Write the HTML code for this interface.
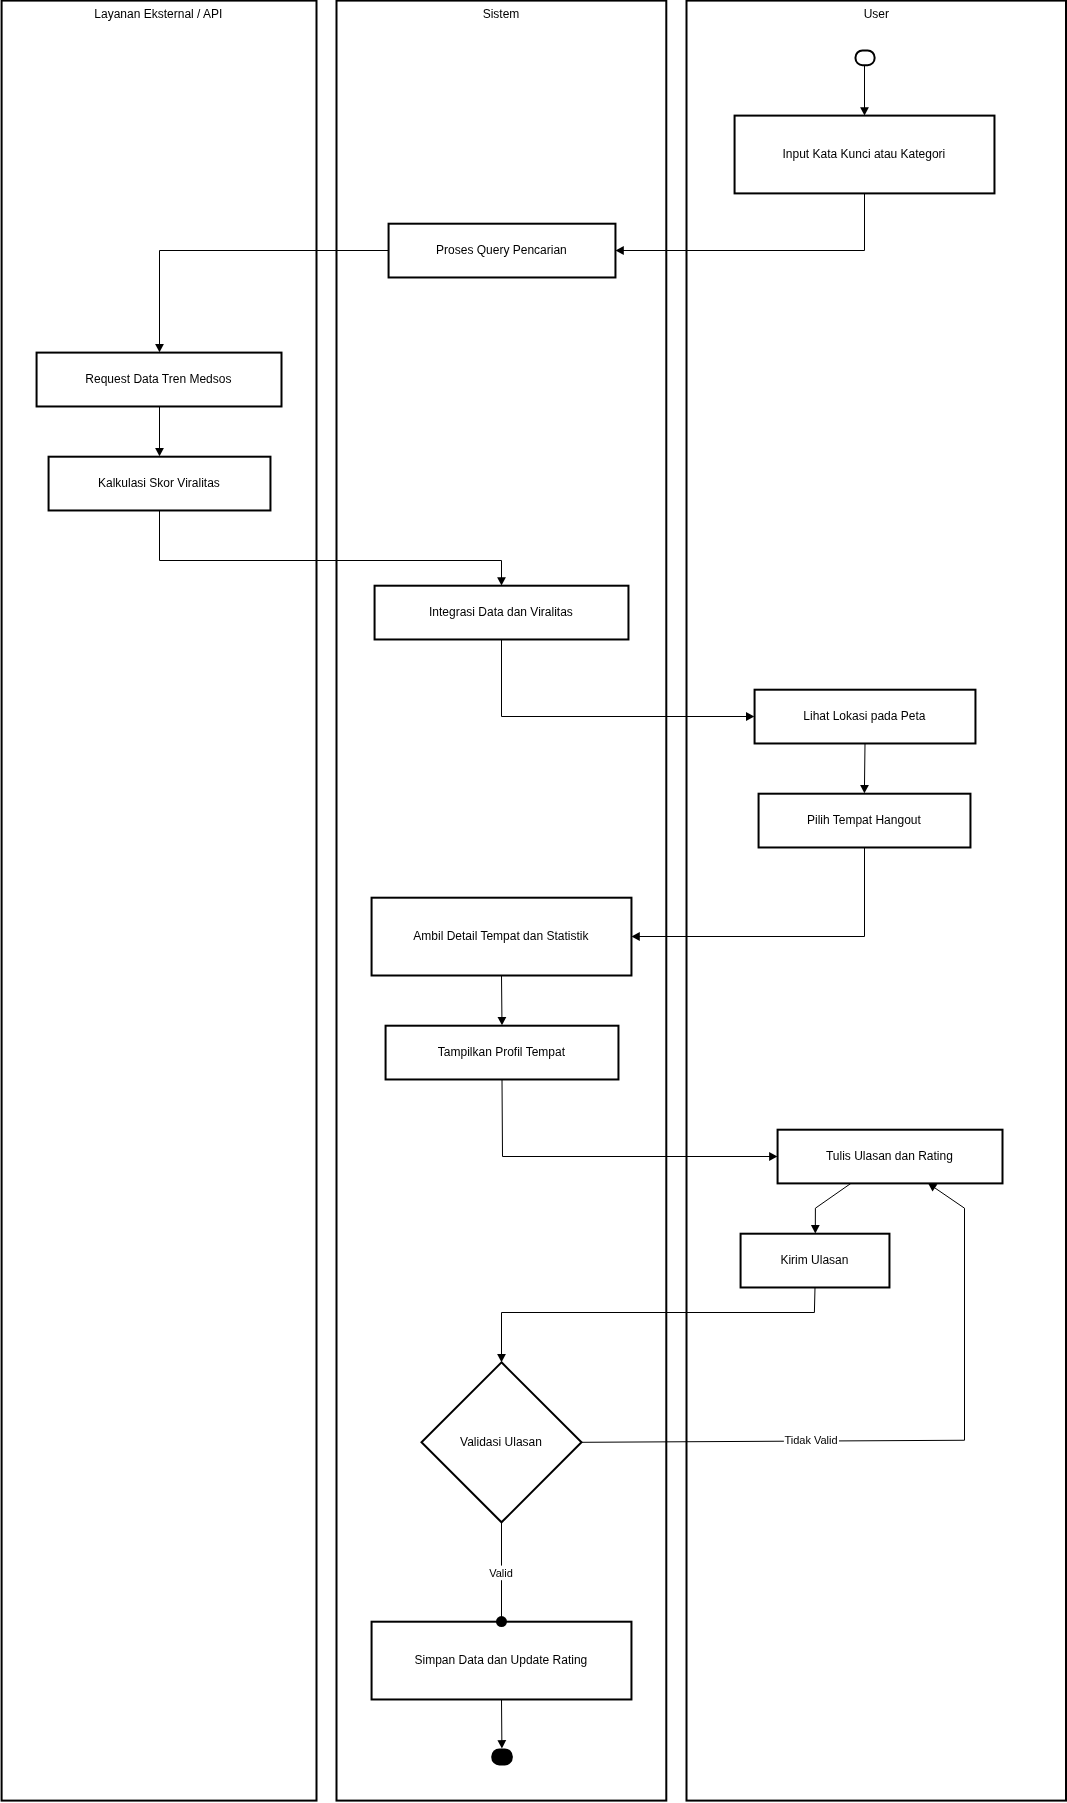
<!DOCTYPE html><html><head><meta charset="utf-8"><style>html,body{margin:0;padding:0;background:#fff;width:1067px;height:1803px;overflow:hidden}svg{display:block;will-change:transform}text{font-family:"Liberation Sans", sans-serif}</style></head><body>
<svg width="1067" height="1803" viewBox="0 0 1067 1803">
<rect x="0" y="0" width="1067" height="1803" fill="#fff"/>
<rect x="1.6" y="0.6" width="314.90" height="1800.00" fill="none" stroke="#000" stroke-width="2"/>
<text x="158.4" y="18" font-size="12" text-anchor="middle" fill="#000">Layanan Eksternal / API</text>
<rect x="336.5" y="0.6" width="329.80" height="1800.00" fill="none" stroke="#000" stroke-width="2"/>
<text x="501.0" y="18" font-size="12" text-anchor="middle" fill="#000">Sistem</text>
<rect x="686.5" y="0.6" width="379.50" height="1800.00" fill="none" stroke="#000" stroke-width="2"/>
<text x="876.3" y="18" font-size="12" text-anchor="middle" fill="#000">User</text>
<rect x="734.57" y="115.6" width="259.90" height="77.80" fill="#fff" stroke="#000" stroke-width="2"/>
<text x="863.9" y="158" font-size="12" text-anchor="middle" fill="#000">Input Kata Kunci atau Kategori</text>
<rect x="388.57" y="223.7" width="226.89" height="53.78" fill="#fff" stroke="#000" stroke-width="2"/>
<text x="501.4" y="254" font-size="12" text-anchor="middle" fill="#000">Proses Query Pencarian</text>
<rect x="36.57" y="352.6" width="244.93" height="53.88" fill="#fff" stroke="#000" stroke-width="2"/>
<text x="158.4" y="383" font-size="12" text-anchor="middle" fill="#000">Request Data Tren Medsos</text>
<rect x="48.57" y="456.7" width="221.89" height="53.78" fill="#fff" stroke="#000" stroke-width="2"/>
<text x="158.9" y="487" font-size="12" text-anchor="middle" fill="#000">Kalkulasi Skor Viralitas</text>
<rect x="374.57" y="585.7" width="253.89" height="53.78" fill="#fff" stroke="#000" stroke-width="2"/>
<text x="500.9" y="616" font-size="12" text-anchor="middle" fill="#000">Integrasi Data dan Viralitas</text>
<rect x="754.57" y="689.7" width="220.89" height="53.78" fill="#fff" stroke="#000" stroke-width="2"/>
<text x="864.4" y="720" font-size="12" text-anchor="middle" fill="#000">Lihat Lokasi pada Peta</text>
<rect x="758.57" y="793.7" width="211.89" height="53.78" fill="#fff" stroke="#000" stroke-width="2"/>
<text x="863.9" y="824" font-size="12" text-anchor="middle" fill="#000">Pilih Tempat Hangout</text>
<rect x="371.57" y="897.7" width="259.89" height="77.80" fill="#fff" stroke="#000" stroke-width="2"/>
<text x="500.9" y="940" font-size="12" text-anchor="middle" fill="#000">Ambil Detail Tempat dan Statistik</text>
<rect x="385.57" y="1025.7" width="232.89" height="53.78" fill="#fff" stroke="#000" stroke-width="2"/>
<text x="501.4" y="1056" font-size="12" text-anchor="middle" fill="#000">Tampilkan Profil Tempat</text>
<rect x="777.57" y="1129.7" width="224.93" height="53.70" fill="#fff" stroke="#000" stroke-width="2"/>
<text x="889.4" y="1160" font-size="12" text-anchor="middle" fill="#000">Tulis Ulasan dan Rating</text>
<rect x="740.57" y="1233.7" width="148.89" height="53.78" fill="#fff" stroke="#000" stroke-width="2"/>
<text x="814.4" y="1264" font-size="12" text-anchor="middle" fill="#000">Kirim Ulasan</text>
<rect x="371.57" y="1621.7" width="259.89" height="77.78" fill="#fff" stroke="#000" stroke-width="2"/>
<text x="500.9" y="1664" font-size="12" text-anchor="middle" fill="#000">Simpan Data dan Update Rating</text>
<polygon points="501.5,1362.3 581.5,1442.3 501.5,1522.3 421.5,1442.3" fill="#fff" stroke="#000" stroke-width="2"/>
<text x="501.0" y="1446" font-size="12" text-anchor="middle" fill="#000">Validasi Ulasan</text>
<rect x="855.5" y="50.4" width="19.1" height="14.8" rx="7" ry="7" fill="#fff" stroke="#000" stroke-width="2"/>
<rect x="491.3" y="1748.4" width="21.5" height="17" rx="8" ry="8" fill="#000"/>
<polyline points="864.50,66.00 864.50,110.50" fill="none" stroke="#000" stroke-width="1.0" stroke-linejoin="round"/>
<polygon points="864.50,115.50 860.10,107.20 868.90,107.20" fill="#000"/>
<polyline points="864.50,193.30 864.50,250.50 620.50,250.50" fill="none" stroke="#000" stroke-width="1.0" stroke-linejoin="round"/>
<polygon points="615.50,250.50 623.80,246.10 623.80,254.90" fill="#000"/>
<polyline points="388.20,250.50 159.50,250.50 159.50,347.30" fill="none" stroke="#000" stroke-width="1.0" stroke-linejoin="round"/>
<polygon points="159.50,352.30 155.10,344.00 163.90,344.00" fill="#000"/>
<polyline points="159.50,406.40 159.50,451.30" fill="none" stroke="#000" stroke-width="1.0" stroke-linejoin="round"/>
<polygon points="159.50,456.30 155.10,448.00 163.90,448.00" fill="#000"/>
<polyline points="159.50,510.10 159.50,560.50 501.50,560.50 501.50,580.50" fill="none" stroke="#000" stroke-width="1.0" stroke-linejoin="round"/>
<polygon points="501.50,585.50 497.10,577.20 505.90,577.20" fill="#000"/>
<polyline points="501.50,639.40 501.50,716.50 749.30,716.50" fill="none" stroke="#000" stroke-width="1.0" stroke-linejoin="round"/>
<polygon points="754.30,716.50 746.00,720.90 746.00,712.10" fill="#000"/>
<polyline points="865.00,743.50 864.46,788.30" fill="none" stroke="#000" stroke-width="1.0" stroke-linejoin="round"/>
<polygon points="864.40,793.30 860.10,784.95 868.90,785.05" fill="#000"/>
<polyline points="864.50,847.20 864.50,936.50 636.50,936.50" fill="none" stroke="#000" stroke-width="1.0" stroke-linejoin="round"/>
<polygon points="631.50,936.50 639.80,932.10 639.80,940.90" fill="#000"/>
<polyline points="501.50,975.50 501.95,1020.30" fill="none" stroke="#000" stroke-width="1.0" stroke-linejoin="round"/>
<polygon points="502.00,1025.30 497.52,1017.04 506.32,1016.96" fill="#000"/>
<polyline points="502.00,1079.40 502.50,1156.50 772.40,1156.50" fill="none" stroke="#000" stroke-width="1.0" stroke-linejoin="round"/>
<polygon points="777.40,1156.50 769.10,1160.90 769.10,1152.10" fill="#000"/>
<polyline points="851.00,1183.30 815.40,1208.20 815.32,1228.40" fill="none" stroke="#000" stroke-width="1.0" stroke-linejoin="round"/>
<polygon points="815.30,1233.40 810.93,1225.08 819.73,1225.12" fill="#000"/>
<polyline points="815.00,1287.45 814.40,1312.50 501.50,1312.50 501.50,1357.30" fill="none" stroke="#000" stroke-width="1.0" stroke-linejoin="round"/>
<polygon points="501.50,1362.30 497.10,1354.00 505.90,1354.00" fill="#000"/>
<polyline points="581.50,1442.30 964.50,1440.25 964.50,1208.20 932.23,1186.12" fill="none" stroke="#000" stroke-width="1.0" stroke-linejoin="round"/>
<polygon points="928.10,1183.30 937.43,1184.35 932.47,1191.62" fill="#000"/>
<polyline points="501.50,1522.30 501.50,1621.20" fill="none" stroke="#000" stroke-width="1.0" stroke-linejoin="round"/>
<polyline points="501.50,1699.30 501.86,1743.40" fill="none" stroke="#000" stroke-width="1.0" stroke-linejoin="round"/>
<polygon points="501.90,1748.40 497.43,1740.14 506.23,1740.06" fill="#000"/>
<circle cx="501.5" cy="1621.6" r="5.5" fill="#000"/>
<rect x="783.9" y="1434" width="55.1" height="14.5" fill="#fff"/>
<text x="811.0" y="1443.8" font-size="11" text-anchor="middle" fill="#000">Tidak Valid</text>
<rect x="487" y="1565.6" width="29" height="14.6" fill="#fff"/>
<text x="501.0" y="1576.6" font-size="11" text-anchor="middle" fill="#000">Valid</text>
</svg></body></html>
